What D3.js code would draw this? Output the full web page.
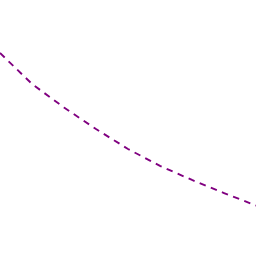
<!DOCTYPE html>
<html>
<head>
<meta charset="utf-8">
<script src="https://cdn.jsdelivr.net/npm/d3@7"></script>
<style>
  body { margin: 0; background: #fff; }
  svg { display: block; }
</style>
</head>
<body>
<svg id="chart" width="256" height="256"></svg>
<script>
const xValues = [0, 1, 2, 3, 4, 5, 6, 7, 8];
const yValues = [7.93, 6.72, 5.80, 4.96, 4.18, 3.52, 2.97, 2.46, 1.97];

const svg = d3.select('#chart');
const width = 256, height = 256;

const xScale = d3.scaleLinear().domain([0, 8]).range([0, width]);
const yScale = d3.scaleLinear().domain([0, 10]).range([height, 0]);

const data = xValues.map((x, i) => ({ x: x, y: yValues[i] }));

const line = d3.line()
    .x(d => xScale(d.x))
    .y(d => yScale(d.y));

svg.append('path')
    .datum(data)
    .attr('fill', 'none')
    .attr('stroke', '#800080')
    .attr('stroke-width', 1.9)
    .attr('stroke-dasharray', '6.5,5.5')
    .attr('d', line);
</script>
</body>
</html>
